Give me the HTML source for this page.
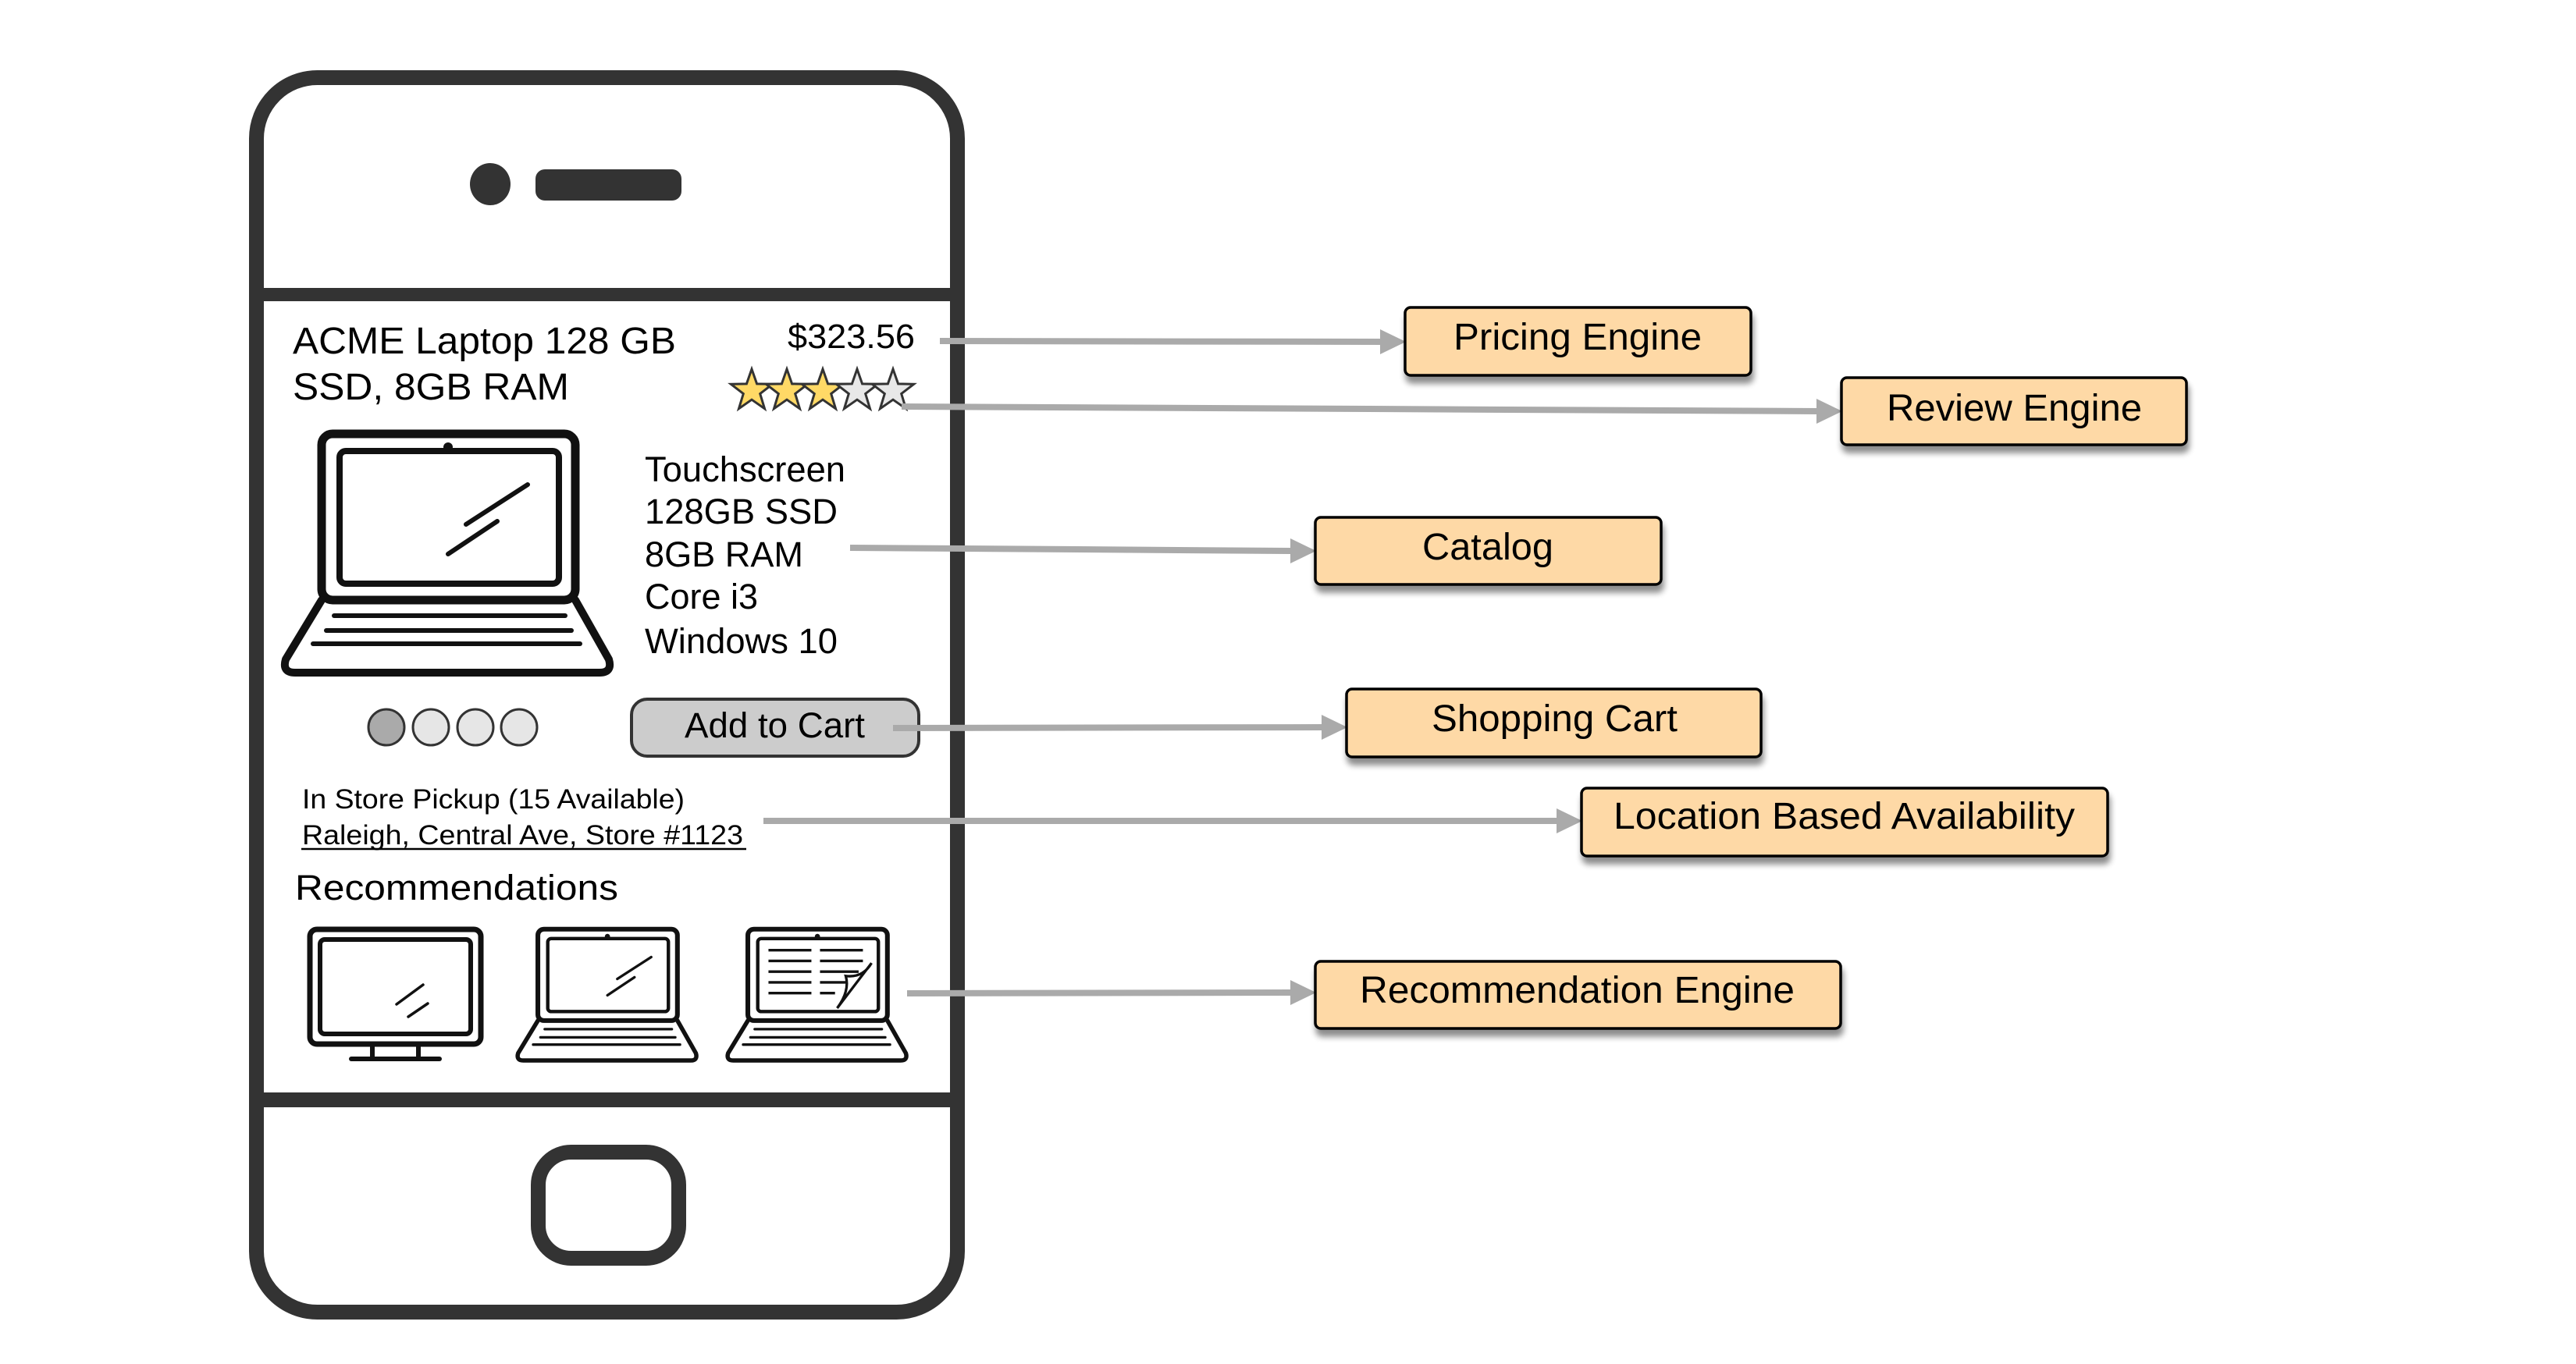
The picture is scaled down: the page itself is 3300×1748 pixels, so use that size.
<!DOCTYPE html>
<html><head><meta charset="utf-8"><style>
html,body{margin:0;padding:0;background:#fff;}
svg{display:block;}
text{font-family:"Liberation Sans",Arial,sans-serif;fill:#000;}
</style></head><body>
<svg width="3300" height="1748" viewBox="0 0 3300 1748" xmlns="http://www.w3.org/2000/svg">
<defs>
<filter id="sh" x="-10%" y="-30%" width="120%" height="180%">
<feGaussianBlur in="SourceAlpha" stdDeviation="4"/>
<feOffset dx="2" dy="9" result="b"/>
<feComponentTransfer><feFuncA type="linear" slope="0.45"/></feComponentTransfer>
<feMerge><feMergeNode/><feMergeNode in="SourceGraphic"/></feMerge>
</filter>
<g id="laptop" fill="none" stroke="#111" stroke-linecap="round" stroke-linejoin="round">
<rect x="412" y="556" width="325" height="213" rx="14" stroke-width="11"/>
<rect x="435" y="578" width="281" height="170" rx="8" stroke-width="8"/>
<circle cx="574" cy="573" r="6" fill="#111" stroke="none"/>
<path d="M412 769 L366 845 Q361 862 378 862 L768 862 Q785 862 780 845 L737 769" stroke-width="10"/>
<line x1="428" y1="789" x2="724" y2="789" stroke-width="6"/>
<line x1="418" y1="808" x2="732" y2="808" stroke-width="6"/>
<line x1="401" y1="825" x2="743" y2="825" stroke-width="6"/>
</g>
</defs>

<!-- Phone -->
<rect x="328.5" y="99.5" width="898" height="1582" rx="78" fill="#fff" stroke="#333" stroke-width="19"/>
<rect x="319" y="369" width="917" height="17" fill="#333"/>
<rect x="319" y="1400" width="917" height="19" fill="#333"/>
<ellipse cx="628" cy="236" rx="26" ry="27" fill="#333"/>
<rect x="686" y="217" width="187" height="40" rx="12" fill="#333"/>
<rect x="689.5" y="1476.5" width="180" height="136" rx="42" fill="none" stroke="#333" stroke-width="19"/>

<!-- Title & price -->
<text x="375" y="453" font-size="48" textLength="491" lengthAdjust="spacingAndGlyphs">ACME Laptop 128 GB</text>
<text x="375" y="512" font-size="48" textLength="354" lengthAdjust="spacingAndGlyphs">SSD, 8GB RAM</text>
<text x="1009" y="446" font-size="44" textLength="163" lengthAdjust="spacingAndGlyphs">$323.56</text>

<!-- Stars -->
<g stroke="#333" stroke-width="3" stroke-linejoin="miter">
<polygon transform="translate(963,501)" points="0,-28 6.6,-9.1 26.6,-8.7 10.7,3.5 16.5,22.7 0,11.2 -16.5,22.7 -10.7,3.5 -26.6,-8.7 -6.6,-9.1" fill="#ffd966"/>
<polygon transform="translate(1008,501)" points="0,-28 6.6,-9.1 26.6,-8.7 10.7,3.5 16.5,22.7 0,11.2 -16.5,22.7 -10.7,3.5 -26.6,-8.7 -6.6,-9.1" fill="#ffd966"/>
<polygon transform="translate(1054,501)" points="0,-28 6.6,-9.1 26.6,-8.7 10.7,3.5 16.5,22.7 0,11.2 -16.5,22.7 -10.7,3.5 -26.6,-8.7 -6.6,-9.1" fill="#ffd966"/>
<polygon transform="translate(1098,501)" points="0,-28 6.6,-9.1 26.6,-8.7 10.7,3.5 16.5,22.7 0,11.2 -16.5,22.7 -10.7,3.5 -26.6,-8.7 -6.6,-9.1" fill="#e8e8e8"/>
<polygon transform="translate(1144,501)" points="0,-28 6.6,-9.1 26.6,-8.7 10.7,3.5 16.5,22.7 0,11.2 -16.5,22.7 -10.7,3.5 -26.6,-8.7 -6.6,-9.1" fill="#e8e8e8"/>
</g>

<!-- Big laptop -->
<use href="#laptop"/>
<g stroke="#111" stroke-width="6" stroke-linecap="round">
<line x1="597" y1="672" x2="676" y2="621"/>
<line x1="574" y1="710" x2="637" y2="668"/>
</g>

<!-- Specs -->
<text x="826" y="617" font-size="45" textLength="257" lengthAdjust="spacingAndGlyphs">Touchscreen</text>
<text x="826" y="671" font-size="45" textLength="247" lengthAdjust="spacingAndGlyphs">128GB SSD</text>
<text x="826" y="726" font-size="45" textLength="203" lengthAdjust="spacingAndGlyphs">8GB RAM</text>
<text x="826" y="780" font-size="45" textLength="145" lengthAdjust="spacingAndGlyphs">Core i3</text>
<text x="826" y="837" font-size="45" textLength="247" lengthAdjust="spacingAndGlyphs">Windows 10</text>

<!-- Dots -->
<g stroke="#333" stroke-width="3">
<ellipse cx="495" cy="932" rx="23" ry="23" fill="#aaa"/>
<ellipse cx="552" cy="932" rx="23" ry="23" fill="#e6e6e6"/>
<ellipse cx="609" cy="932" rx="23" ry="23" fill="#e6e6e6"/>
<ellipse cx="665" cy="932" rx="23" ry="23" fill="#e6e6e6"/>
</g>

<!-- Add to cart -->
<rect x="809" y="896" width="368" height="73" rx="20" fill="#ccc" stroke="#333" stroke-width="4"/>
<text x="877" y="945" font-size="45" textLength="231" lengthAdjust="spacingAndGlyphs">Add to Cart</text>

<!-- Store -->
<text x="387" y="1036" font-size="35" textLength="490" lengthAdjust="spacingAndGlyphs">In Store Pickup (15 Available)</text>
<text x="387" y="1082" font-size="35" textLength="565" lengthAdjust="spacingAndGlyphs">Raleigh, Central Ave, Store #1123</text>
<line x1="386" y1="1088" x2="956" y2="1088" stroke="#000" stroke-width="2.5"/>

<text x="378" y="1153" font-size="45" textLength="414" lengthAdjust="spacingAndGlyphs">Recommendations</text>

<!-- Monitor -->
<g fill="none" stroke="#111" stroke-linecap="round" stroke-linejoin="round">
<rect x="397" y="1191" width="219" height="147" rx="9" stroke-width="7"/>
<rect x="410" y="1204" width="193" height="121" rx="6" stroke-width="6"/>
<line x1="477" y1="1340" x2="477" y2="1355" stroke-width="6"/>
<line x1="536" y1="1340" x2="536" y2="1355" stroke-width="6"/>
<line x1="450" y1="1357" x2="563" y2="1357" stroke-width="6"/>
<line x1="523" y1="1303" x2="548" y2="1286" stroke-width="3.5"/>
<line x1="508" y1="1287" x2="542" y2="1262" stroke-width="3.5"/>
</g>
<!-- Laptop 2 -->
<g transform="translate(661,1188) scale(0.55) translate(-361,-551)"><use href="#laptop"/>
<g stroke="#111" stroke-width="6" stroke-linecap="round"><line x1="597" y1="672" x2="676" y2="621"/><line x1="574" y1="710" x2="637" y2="668"/></g></g>
<!-- Laptop 3 -->
<g transform="translate(930,1188) scale(0.55) translate(-361,-551)"><use href="#laptop"/>
<g stroke="#111" stroke-width="6" fill="none">
<line x1="460" y1="605" x2="560" y2="605"/><line x1="580" y1="605" x2="680" y2="605"/>
<line x1="460" y1="630" x2="560" y2="630"/><line x1="580" y1="630" x2="680" y2="630"/>
<line x1="460" y1="655" x2="560" y2="655"/><line x1="580" y1="655" x2="670" y2="655"/>
<line x1="460" y1="680" x2="560" y2="680"/><line x1="580" y1="680" x2="640" y2="680"/>
<line x1="460" y1="705" x2="560" y2="705"/><line x1="580" y1="705" x2="615" y2="705"/>
<path d="M700 635 L620 740 Q650 700 640 665 Q680 670 700 635 Z" fill="#fff"/>
</g></g>

<!-- Arrows -->
<g stroke="#aaa" stroke-width="8" fill="none">
<line x1="1204" y1="437" x2="1772" y2="438"/>
<line x1="1155" y1="521" x2="2330" y2="527"/>
<line x1="1089" y1="702" x2="1656" y2="706"/>
<line x1="1144" y1="933" x2="1696" y2="932"/>
<line x1="978" y1="1052" x2="1997" y2="1052"/>
<line x1="1162" y1="1273" x2="1656" y2="1272"/>
</g>
<g fill="#aaa">
<polygon points="1801,438 1768,422 1768,454"/>
<polygon points="2360,527 2327,511 2327,543"/>
<polygon points="1686,706 1653,690 1653,722"/>
<polygon points="1726,932 1693,916 1693,948"/>
<polygon points="2027,1052 1994,1036 1994,1068"/>
<polygon points="1686,1272 1653,1256 1653,1288"/>
</g>

<!-- Boxes -->
<g fill="#fed9a6" stroke="#000" stroke-width="3.5" filter="url(#sh)">
<rect x="1800" y="394" width="443" height="87" rx="7"/>
<rect x="2359" y="484" width="442" height="86" rx="7"/>
<rect x="1685" y="663" width="443" height="86" rx="7"/>
<rect x="1725" y="883" width="531" height="87" rx="7"/>
<rect x="2026" y="1010" width="674" height="87" rx="7"/>
<rect x="1685" y="1232" width="673" height="86" rx="7"/>
</g>
<text x="1862" y="448" font-size="48" textLength="318" lengthAdjust="spacingAndGlyphs">Pricing Engine</text>
<text x="2417" y="539" font-size="48" textLength="327" lengthAdjust="spacingAndGlyphs">Review Engine</text>
<text x="1822" y="717" font-size="48" textLength="168" lengthAdjust="spacingAndGlyphs">Catalog</text>
<text x="1834" y="937" font-size="48" textLength="315" lengthAdjust="spacingAndGlyphs">Shopping Cart</text>
<text x="2067" y="1062" font-size="48" textLength="591" lengthAdjust="spacingAndGlyphs">Location Based Availability</text>
<text x="1742" y="1285" font-size="48" textLength="557" lengthAdjust="spacingAndGlyphs">Recommendation Engine</text>
</svg>
</body></html>
